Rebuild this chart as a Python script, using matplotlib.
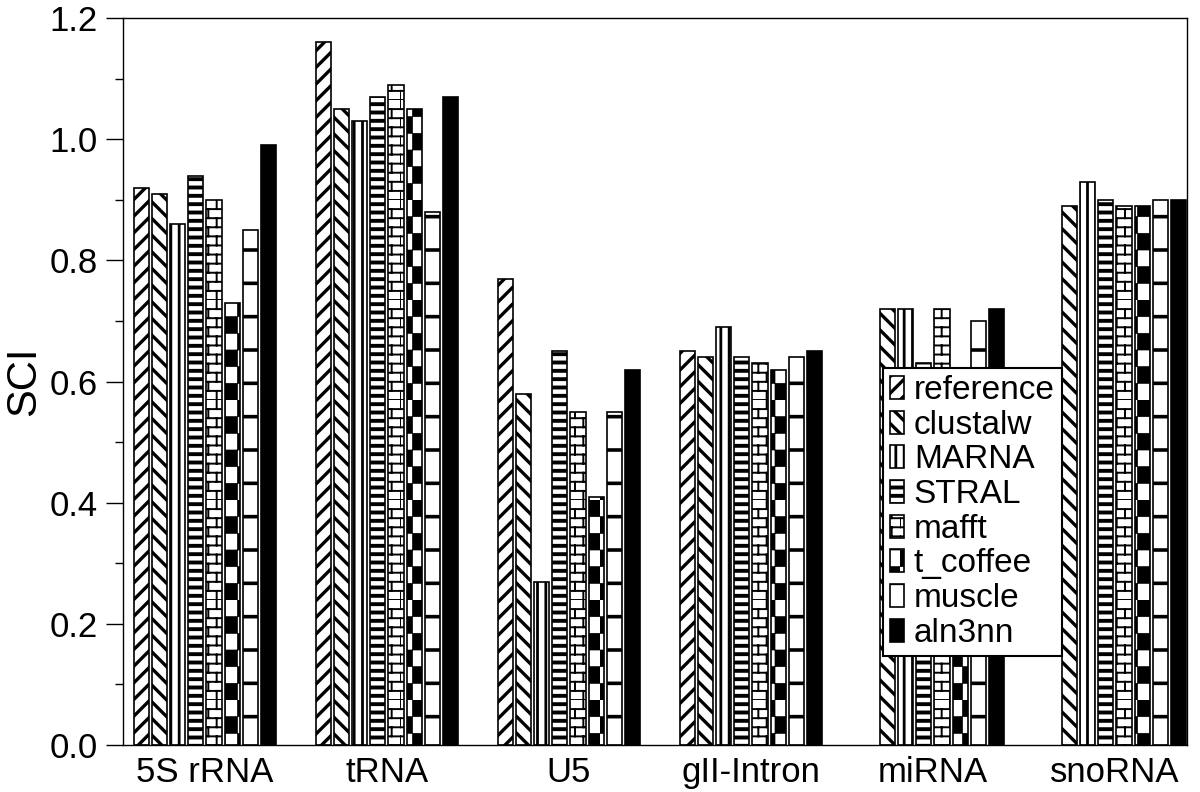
import warnings
import numpy as np
import matplotlib
matplotlib.use("Agg")
import matplotlib.pyplot as plt
from matplotlib import hatch as mhatch
from matplotlib.path import Path

warnings.filterwarnings("ignore")

# data (NaN = no bar)
groups = ["5S rRNA", "tRNA", "U5", "gII-Intron", "miRNA", "snoRNA"]
methods = ["reference", "clustalw", "MARNA", "STRAL", "mafft", "t_coffee", "muscle", "aln3nn"]

reference = [0.92, 1.16, 0.77, 0.65, np.nan, np.nan]
clustalw = [0.91, 1.05, 0.58, 0.64, 0.72, 0.89]
marna = [0.86, 1.03, 0.27, 0.69, 0.72, 0.93]
stral = [0.94, 1.07, 0.65, 0.64, 0.63, 0.90]
mafft = [0.90, 1.09, 0.55, 0.63, 0.72, 0.89]
t_coffee = [0.73, 1.05, 0.41, 0.62, 0.50, 0.89]
muscle = [0.85, 0.88, 0.55, 0.64, 0.70, 0.90]
aln3nn = [0.99, 1.07, 0.62, 0.65, 0.72, 0.90]


# extra bitmap-like fill patterns (xmgrace style)
class CheckerHatch(mhatch.HatchPatternBase):
    filled = True

    def __init__(self, hatch, density):
        self.nx, self.ny = 8, 6
        self.num_vertices = (self.nx * self.ny // 2) * 5 if "c" in hatch else 0

    def set_vertices_and_codes(self, vertices, codes):
        w, h = 1.0 / self.nx, 1.0 / self.ny
        k = 0
        for i in range(self.nx):
            for j in range(self.ny):
                if (i + j) % 2 == 0:
                    x0, y0 = i * w, j * h
                    vertices[k:k + 5] = [(x0, y0), (x0 + w, y0), (x0 + w, y0 + h),
                                         (x0, y0 + h), (x0, y0)]
                    codes[k:k + 5] = [Path.MOVETO, Path.LINETO, Path.LINETO,
                                      Path.LINETO, Path.CLOSEPOLY]
                    k += 5


class SparseLines(mhatch.HatchPatternBase):
    def __init__(self, hatch, density):
        self.n = 3
        self.num_vertices = self.n * 2 if "m" in hatch else 0

    def set_vertices_and_codes(self, vertices, codes):
        ys = np.arange(self.n) / self.n + 0.5 / self.n
        vertices[0::2, 0] = 0.0
        vertices[1::2, 0] = 1.0
        vertices[0::2, 1] = ys
        vertices[1::2, 1] = ys
        codes[0::2] = Path.MOVETO
        codes[1::2] = Path.LINETO


class BrickHatch(mhatch.HatchPatternBase):
    def __init__(self, hatch, density):
        self.rows, self.cols = 11, 6
        self.num_vertices = (self.rows * 2 + self.rows * self.cols * 2) if "b" in hatch else 0

    def set_vertices_and_codes(self, vertices, codes):
        h = 1.0 / self.rows
        w = 1.0 / self.cols
        k = 0
        for r in range(self.rows):
            vertices[k:k + 2] = [(0.0, r * h), (1.0, r * h)]
            codes[k:k + 2] = [Path.MOVETO, Path.LINETO]
            k += 2
        for r in range(self.rows):
            off = (w / 2) * (r % 2)
            for c in range(self.cols):
                x = c * w + off
                vertices[k:k + 2] = [(x, r * h), (x, (r + 1) * h)]
                codes[k:k + 2] = [Path.MOVETO, Path.LINETO]
                k += 2


mhatch._hatch_types.extend([CheckerHatch, SparseLines, BrickHatch])


def hatch_width(artist, lw):
    if hasattr(artist, "set_hatch_linewidth"):
        artist.set_hatch_linewidth(lw)
    else:
        artist._hatch_linewidth = lw


plt.rcParams['font.family'] = ['Liberation Sans', 'DejaVu Sans']

series = [reference, clustalw, marna, stral, mafft, t_coffee, muscle, aln3nn]
hatches = ["//", "\\\\", "||", "--", "b", "c", "m", None]
hatch_lw = [2.4, 2.4, 2.0, 2.8, 1.4, 0.5, 2.6, 1.0]
faces = ["white"] * 7 + ["black"]

fig = plt.figure(figsize=(12, 7.92), dpi=100)
ax = fig.add_axes([0.1025, 0.0593, 0.8865, 0.9177])

x = np.arange(1, len(groups) + 1)
step = 0.1
width = 0.083
for k, vals in enumerate(series):
    plt.rcParams["hatch.linewidth"] = hatch_lw[k]
    b = ax.bar(x + (k - 3.5) * step, vals, width, color=faces[k], edgecolor="black",
               linewidth=1.2, hatch=hatches[k], label=methods[k])
    for p in b:
        hatch_width(p, hatch_lw[k])

ax.set_xlim(0.55, 6.395)
ax.set_ylim(0, 1.2)
ax.set_xticks(x)
ax.set_xticklabels(groups, fontsize=25)
ax.tick_params(axis="x", length=0, pad=8)
ax.set_yticks(np.arange(0, 1.21, 0.2))
ax.set_yticks(np.arange(0, 1.21, 0.1), minor=True)
ax.set_yticklabels(["%.1f" % v for v in np.arange(0, 1.21, 0.2)], fontsize=25)
ax.tick_params(axis="y", which="major", direction="out", length=12, width=1.0, pad=6)
ax.tick_params(axis="y", which="minor", direction="out", length=6, width=1.0)
ax.set_ylabel("SCI", fontsize=30, labelpad=4)
for s in ax.spines.values():
    s.set_linewidth(1.0)

leg = ax.legend(loc="upper left", bbox_to_anchor=(0.714, 0.519), borderaxespad=0,
                fontsize=24, frameon=True, fancybox=False, framealpha=1,
                edgecolor="black", handlelength=0.42, handleheight=0.69,
                handletextpad=0.3, labelspacing=0.11, borderpad=0.22)
leg.get_frame().set_linewidth(1.5)
for k, p in enumerate(leg.get_patches()):
    hatch_width(p, hatch_lw[k])

fig.savefig("out.png", dpi=100)
